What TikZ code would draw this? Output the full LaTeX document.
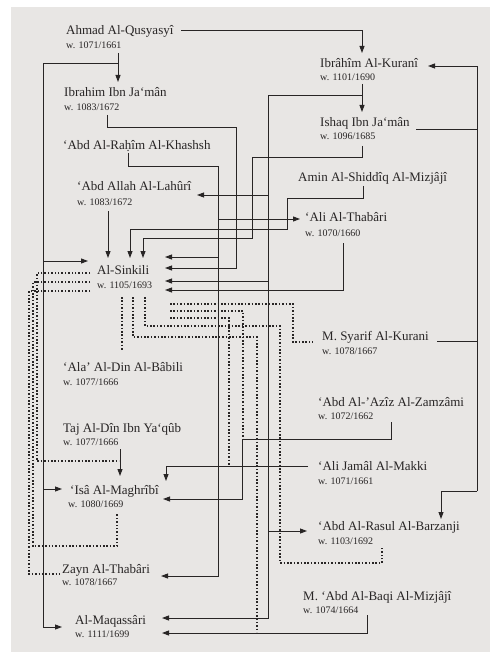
\documentclass[tikz,border=0pt]{standalone}
\usepackage{fontspec}
\setmainfont{Liberation Serif}
\usetikzlibrary{arrows.meta}
\definecolor{paper}{RGB}{232,230,228}
\definecolor{ink}{RGB}{40,37,37}
\begin{document}
\begin{tikzpicture}[x=1pt,y=-1pt,
  nm/.style={anchor=base west,inner sep=0,font=\fontsize{13}{15}\selectfont,text=ink},
  dt/.style={anchor=base west,inner sep=0,font=\fontsize{10}{12}\selectfont,text=ink},
  ln/.style={draw=ink,line width=0.9pt},
  arr/.style={ln,-{Triangle[length=7pt,width=5pt]}},
  dots/.style={draw=ink,line width=1.5pt,dash pattern=on 1.5pt off 1.9pt}]
\useasboundingbox (0,0) rectangle (490,652);
\fill[paper] (0,0) rectangle (490,652);
\fill[white] (0,0) rectangle (11,652);
\fill[white] (0,0) rectangle (490,7);

% ---------- persons ----------
\node[nm] (ahmad) at (66,35) {Ahmad Al-Qusyasyî};
\node[dt] (ahmadd) at (66,49) {w. 1071/1661};
\node[nm] (kurani) at (320,68) {Ibrâhîm Al-Kuranî};
\node[dt] (kuranid) at (320,81) {w. 1101/1690};
\node[nm] (ibrahim) at (64,97) {Ibrahim Ibn Ja‘mân};
\node[dt] (ibrahimd) at (64,111) {w. 1083/1672};
\node[nm] (ishaq) at (320,127) {Ishaq Ibn Ja‘mân};
\node[dt] (ishaqd) at (320,140) {w. 1096/1685};
\node[nm] (rahim) at (63,150) {‘Abd Al-Raḥîm Al-Khashsh};
\node[nm] (lahuri) at (77,191) {‘Abd Allah Al-Lahûrî};
\node[dt] (lahurid) at (77,205) {w. 1083/1672};
\node[nm] (amin) at (298,182) {Amin Al-Shiddîq Al-Mizjâjî};
\node[nm] (thabari) at (305,222) {‘Ali Al-Thabâri};
\node[dt] (thabarid) at (305,236) {w. 1070/1660};
\node[nm] (sinkili) at (97,274) {Al-Sinkili};
\node[dt] (sinkilid) at (97,288) {w. 1105/1693};
\node[nm] (syarif) at (322,340) {M. Syarif Al-Kurani};
\node[dt] (syarifd) at (322,354) {w. 1078/1667};
\node[nm] (ala) at (63,371) {‘Ala’ Al-Din Al-Bâbili};
\node[dt] (alad) at (63,385) {w. 1077/1666};
\node[nm] (zamzami) at (318,406) {‘Abd Al-’Azîz Al-Zamzâmi};
\node[dt] (zamzamid) at (318,419) {w. 1072/1662};
\node[nm] (taj) at (63,432) {Taj Al-Dîn Ibn Ya‘qûb};
\node[dt] (tajd) at (63,445) {w. 1077/1666};
\node[nm] (jamal) at (318,470) {‘Ali Jamâl Al-Makki};
\node[dt] (jamald) at (318,484) {w. 1071/1661};
\node[nm] (isa) at (70,494) {‘Isâ Al-Maghrîbî};
\node[dt] (isad) at (68,507) {w. 1080/1669};
\node[nm] (barzanji) at (318,530) {‘Abd Al-Rasul Al-Barzanji};
\node[dt] (barzanjid) at (318,544) {w. 1103/1692};
\node[nm] (zayn) at (62,573) {Zayn Al-Thabâri};
\node[dt] (zaynd) at (62,585) {w. 1078/1667};
\node[nm] (baqi) at (303,600) {M. ‘Abd Al-Baqi Al-Mizjâjî};
\node[dt] (baqid) at (303,613) {w. 1074/1664};
\node[nm] (maqassari) at (75,624) {Al-Maqassâri};
\node[dt] (maqassarid) at (75,637) {w. 1111/1699};

% ---------- arrow tips / bus points ----------
\coordinate (tKuraniTop) at (362,53);
\coordinate (tKuraniR) at (428,66);
\coordinate (tIbrahim) at (118,82);
\coordinate (tIshaq) at (362,112);
\coordinate (tLahuri) at (197,195);
\coordinate (tThabari) at (300,219);
\coordinate (tSkTop1) at (108,258);
\coordinate (tSkTop2) at (130,258);
\coordinate (tSkTop3) at (143,258);
\coordinate (tSkL) at (88,261);
\coordinate (tSkR1) at (165,257);
\coordinate (tSkR2) at (165,268);
\coordinate (tSkR3) at (165,281);
\coordinate (tSkR4) at (165,290);
\coordinate (tIsaTop1) at (120,476);
\coordinate (tIsaTop2) at (166,481);
\coordinate (tIsaL) at (62,489);
\coordinate (tIsaR) at (163,499);
\coordinate (tBarzTop) at (441,519);
\coordinate (tBarzL) at (307,531);
\coordinate (tZayn) at (161,576);
\coordinate (tMaqL) at (62,627);
\coordinate (tMaqR1) at (162,618);
\coordinate (tMaqR2) at (162,633);

% ---------- solid connectors ----------
% Ahmad
\draw[arr] (181,30) -| (tKuraniTop);
\draw[arr] (118,53) -- (tIbrahim);
\draw[ln] (118,63) -| (43,627);
\draw[arr] (43,627) -- (tMaqL);
\draw[arr] (43,261) -- (tSkL);
\draw[arr] (43,489) -- (tIsaL);
% Ibrahim Ibn Ja'man
\draw[arr] (107,115) |- (236,127) |- (tSkR2);
% Ibrahim Al-Kurani
\draw[arr] (362,84) -- (tIshaq);
\draw[arr] (362,95) -| (268,618) -- (tMaqR1);
\draw[arr] (268,195) -- (tLahuri);
\draw[arr] (268,281) -- (tSkR3);
\draw[arr] (268,531) -- (tBarzL);
% Ishaq
\draw[arr] (362,146) |- (252,157) |- (143,238) -- (tSkTop3);
\draw[ln] (416,129) -- (477,129);
% right bus
\draw[arr] (477,491) -- (477,66) -- (tKuraniR);
\draw[arr] (477,491) -| (tBarzTop);
\draw[ln] (437,341) -- (477,341);
% Rahim
\draw[arr] (128,153) |- (218,166) |- (tZayn);
\draw[arr] (218,257) -- (tSkR1);
\draw[arr] (218,219) -- (tThabari);
% Lahuri
\draw[arr] (108,211) -- (tSkTop1);
% Amin
\draw[arr] (363,186) |- (287,198) |- (130,229) -- (tSkTop2);
% Thabari
\draw[arr] (343,243) |- (tSkR4);
% Zamzami
\draw[arr] (391,422) |- (242,439) |- (tIsaR);
% Jamal
\draw[arr] (308,466) -| (tIsaTop2);
% Taj
\draw[arr] (120,449) -- (tIsaTop1);
% Baqi
\draw[arr] (367,615) |- (tMaqR2);

% ---------- dotted connectors ----------
\draw[dots] (90,273) -| (37,461) -- (119,461);
\draw[dots] (90,282) -| (33,546) -| (117,513);
\draw[dots] (90,291) -| (29,574) -- (60,574);
\draw[dots] (122,297) -- (122,351);
\draw[dots] (133,297) |- (257,337) -- (257,632);
\draw[dots] (145,297) |- (280,326) |- (382,563) -- (382,546);
\draw[dots] (170,304) -| (293,342) -- (313,342);
\draw[dots] (170,311) -| (243,439);
\draw[dots] (170,318) -| (229,465);
\end{tikzpicture}
\end{document}
